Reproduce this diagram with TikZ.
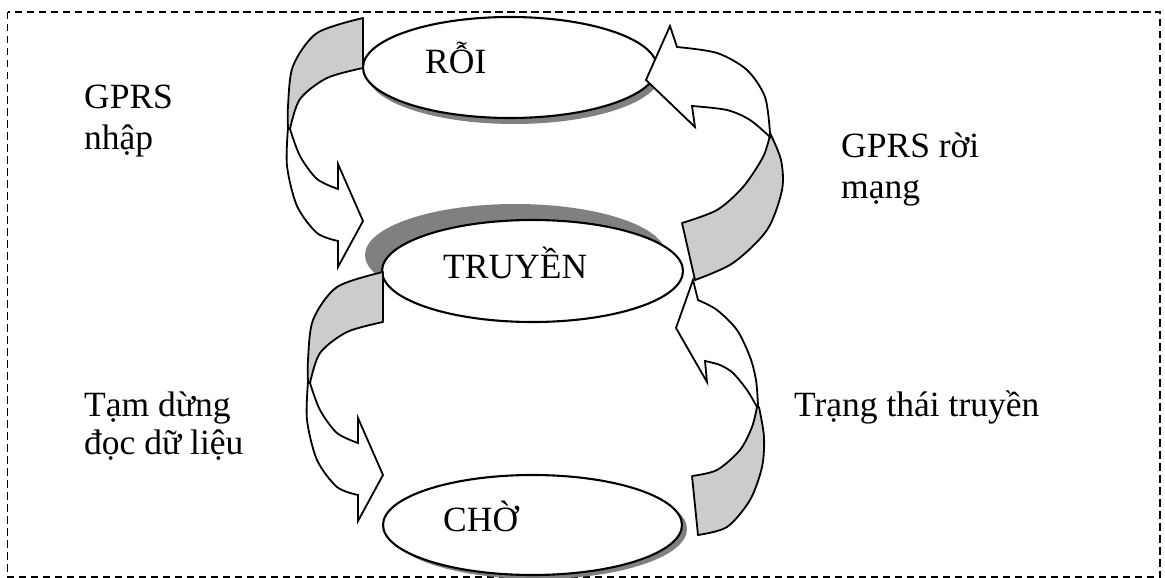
\documentclass[tikz,border=0pt]{standalone}
\usepackage{fontspec}
\setmainfont{Liberation Serif}
\usetikzlibrary{shapes.geometric,calc}
\definecolor{backside}{HTML}{CCCCCC}
\definecolor{shadowgray}{HTML}{808080}

% Curved ribbon arrow bending round the left side (top start, head at bottom)
\newcommand\leftribbon{%
  \path[ribbonback]
    plot[smooth] coordinates {(363,18) (317,33) (293,66) (288,106) (288,128)}
    -- plot[smooth] coordinates {(290,129) (300,99) (327,78) (363,68)} -- cycle;
  \path[ribbonfront]
    plot[smooth] coordinates {(288,128) (287,166) (297,206) (317,233) (338,241)}
    -- (338,267) -- (363,221) -- (338,164) -- (338,189)
    -- plot[smooth] coordinates {(338,189) (317,179) (300,156) (290,129)} -- cycle;
}

\begin{document}
\begin{tikzpicture}[x=1pt,y=-1pt,
  state/.style={draw, ellipse, fill=white, line width=2.1pt, inner sep=0pt},
  ribbonback/.style={draw, fill=backside, line width=1.8pt, line join=round},
  ribbonfront/.style={draw, fill=white, line width=1.8pt, line join=miter},
  lbl/.style={anchor=base west, inner sep=0pt, font=\fontsize{35.5}{41}\selectfont},
]
\useasboundingbox (0,0) rectangle (1165,578);

% dashed frame
\draw[dash pattern=on 7.5pt off 4.5pt, line width=1.3pt] (7.5,12) rectangle (1160,577);

% state centres
\coordinate (roiC) at (510,67.5);
\coordinate (truyenC) at (532.5,271);
\coordinate (choC) at (532.5,525);

% shadows
\fill[shadowgray] ($(roiC)+(4,6)$) ellipse [x radius=147pt, y radius=50.5pt];
\fill[shadowgray] ($(truyenC)+(-17,-16)$) ellipse [x radius=150.5pt, y radius=51pt];
\fill[shadowgray] ($(choC)+(5,4)$) ellipse [x radius=149.5pt, y radius=50pt];

% states
\node[state, minimum width=294pt, minimum height=101pt] (roi) at (roiC) {};
\node[state, minimum width=301pt, minimum height=102pt] (truyen) at (truyenC) {};
\node[state, minimum width=299pt, minimum height=100pt] (cho) at (choC) {};

% left ribbons: ROI -> TRUYEN, TRUYEN -> CHO
\leftribbon
\begin{scope}[shift={(20,254)}]
  \leftribbon
\end{scope}

% right ribbon: TRUYEN -> ROI
\path[ribbonback] (682,223) -- (695,280)
  -- plot[smooth] coordinates {(695,280) (733,263) (767,230) (782,190) (781,160) (770,133)}
  -- plot[smooth] coordinates {(770,135) (763,157) (743,187) (717,210) (682,223)} -- cycle;
\path[ribbonfront]
  plot[smooth] coordinates {(770,133) (765,97) (747,70) (717,53) (677,47)}
  -- (670,26) -- (646,80) -- (695,127) -- (692,106)
  -- plot[smooth] coordinates {(692,106) (727,110) (750,120) (770,137)} -- cycle;

% right ribbon: CHO -> TRUYEN
\path[ribbonback] (692,476)
  -- plot[smooth] coordinates {(698,535) (727,527) (750,500) (762,467) (764,437) (759,407)}
  -- plot[smooth] coordinates {(757,407) (752,427) (740,450) (717,470) (692,476)} -- cycle;
\path[ribbonfront]
  plot[smooth] coordinates {(758,405) (756,380) (750,357) (737,330) (717,310) (698,300)}
  -- (693,280) -- (676,328) -- (707,382) -- (705,361)
  -- plot[smooth] coordinates {(705,361) (720,365) (733,373) (747,390) (757,407)} -- cycle;

% state names
\node[lbl] (roiT) at (425,74) {RỖI};
\node[lbl] (truyenT) at (443,278) {TRUYỀN};
\node[lbl] (choT) at (443,531) {CHỜ};

% transition labels
\node[lbl] (inA) at (84,108) {GPRS};
\node[lbl] (inB) at (84,149) {nhập};
\node[lbl] (outA) at (841,157) {GPRS rời};
\node[lbl] (outB) at (841,198) {mạng};
\node[lbl] (pauseA) at (84,416) {Tạm dừng};
\node[lbl] (pauseB) at (84,454) {đọc dữ liệu};
\node[lbl] (sendT) at (794,416) {Trạng thái truyền};
\end{tikzpicture}
\end{document}
